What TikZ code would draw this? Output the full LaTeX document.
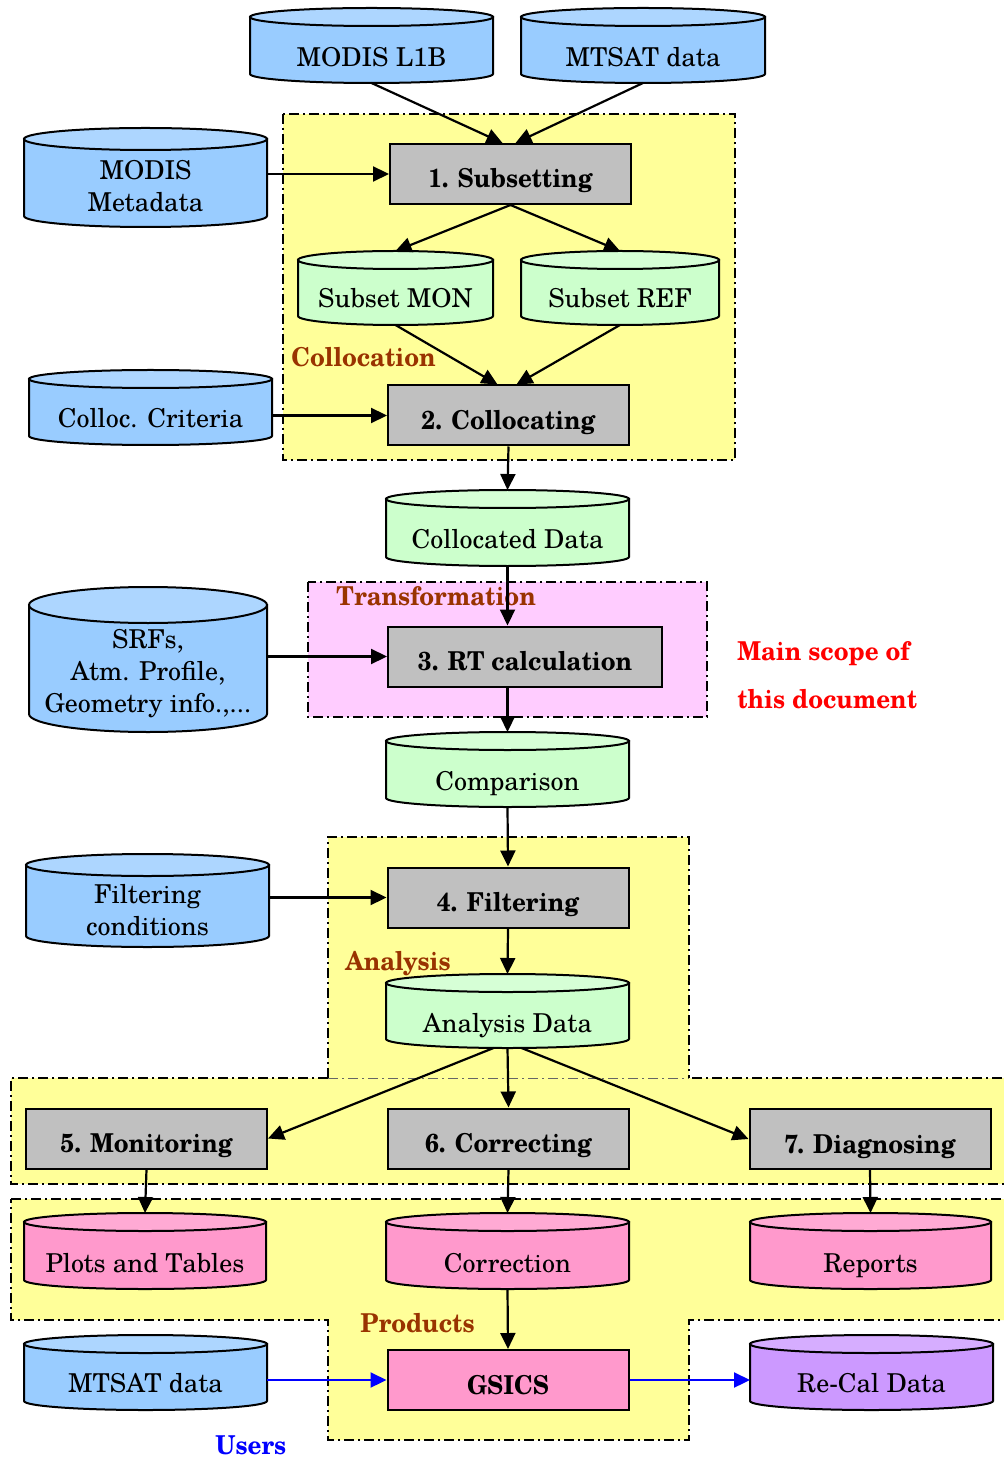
\documentclass[tikz,border=0pt]{standalone}
\usepackage{fontspec}
\setmainfont{TeX Gyre Schola}[BoldFeatures={FakeStretch=0.93}]
\usetikzlibrary{arrows.meta,calc}
\definecolor{cblue}{HTML}{99CCFF}
\definecolor{cblueend}{HTML}{ADD6FF}
\definecolor{cgreen}{HTML}{CCFFCC}
\definecolor{cgreenend}{HTML}{D6FFD6}
\definecolor{cpink}{HTML}{FF99CC}
\definecolor{cpinkend}{HTML}{FFAAD4}
\definecolor{cpurple}{HTML}{CC99FF}
\definecolor{cpurpleend}{HTML}{D6ADFF}
\definecolor{boxgray}{HTML}{C0C0C0}
\definecolor{regyellow}{HTML}{FFFF99}
\definecolor{regpink}{HTML}{FFCCFF}
\definecolor{labbrown}{HTML}{993300}
\tikzset{
  region/.style={draw=black, line width=1pt, dash pattern=on 5pt off 2pt on 1pt off 2pt},
  cylline/.style={draw=black, line width=1pt},
  cylnode/.style={rectangle, inner sep=0pt, outer sep=0pt},
  cyltext/.style={anchor=base, align=center, inner sep=0pt},
  procbox/.style={rectangle, draw=black, line width=1pt, fill=boxgray, inner sep=0pt,
    minimum width=120.5pt, minimum height=30pt, font=\bfseries, text height=14pt, text depth=0pt},
  arr/.style={-{Triangle[length=8pt,width=7.5pt]}, line width=1.1pt},
  barr/.style={arr, draw=blue},
  grouplabel/.style={anchor=base west, inner sep=0pt, font=\bfseries, text=labbrown},
}
% #1 name, #2 x1, #3 x2, #4 ytop, #5 ybottom, #6 ry, #7 colour, #8 baseline of last line, #9 text
\newcommand\dbcyl[9]{%
  \pgfmathsetmacro\mycx{(#2+#3)/2}%
  \pgfmathsetmacro\myrx{(#3-#2)/2}%
  \pgfmathsetmacro\myw{(#3-#2)*0.5}%
  \pgfmathsetmacro\myh{(#5-#4)*0.5}%
  \pgfmathsetmacro\mycy{(#4+#5)/2}%
  \filldraw[cylline, fill=#7] (#2,{#4+#6}) -- (#2,{#5-#6})
    .. controls (#2,{#5-0.448*#6}) and ({\mycx-0.552*\myrx},#5) .. (\mycx,#5)
    .. controls ({\mycx+0.552*\myrx},#5) and (#3,{#5-0.448*#6}) .. (#3,{#5-#6})
    -- (#3,{#4+#6}) -- cycle;
  \filldraw[cylline, fill=#7end] (\mycx,{#4+#6}) ellipse ({\myrx} and {#6});
  \node[cylnode, minimum width=\myw pt, minimum height=\myh pt] (#1) at (\mycx,\mycy) {};
  \node[cyltext] (#1-t) at (\mycx,#8) {#9};
}
\begin{document}
\begin{tikzpicture}[x=0.5pt,y=-0.5pt]
\fontsize{13}{16}\selectfont
\useasboundingbox (0,0) rectangle (1004,1459);
% ---------- regions ----------
\filldraw[region, fill=regyellow] (283,114) rectangle (735,460);
\filldraw[region, fill=regpink] (308,582) rectangle (707,717);
\fill[regyellow] (328,837) rectangle (689,1078);
\fill[regyellow] (11,1078) rectangle (1012,1184);
\draw[region] (328,1078) -- (328,837) -- (689,837) -- (689,1078);
\draw[region] (328,1078) -- (11,1078) -- (11,1184) -- (1012,1184) -- (1012,1078) -- (689,1078);
\draw[region, line width=0.4pt, draw=black!60] (328,1078) -- (689,1078);
\filldraw[region, fill=regyellow] (11,1199) -- (1012,1199) -- (1012,1320) -- (689,1320) -- (689,1440)
  -- (328,1440) -- (328,1320) -- (11,1320) -- cycle;
% ---------- group labels ----------
\node[grouplabel] (lcoll) at (291,367) {Collocation};
\node[grouplabel] (ltrans) at (336,605) {Transformation};
\node[grouplabel] (lana) at (345,970) {Analysis};
\node[grouplabel] (lprod) at (360,1332) {Products};
\node[grouplabel, text=red] (lscope1) at (737,660) {Main scope of};
\node[grouplabel, text=red] (lscope2) at (737,708) {this document};
\node[grouplabel, text=blue] (lusers) at (215,1454) {Users};
% ---------- data stores ----------
\dbcyl{l1b}{250}{493}{8}{83}{9}{cblue}{67}{MODIS L1B}
\dbcyl{mt1}{521}{765}{8}{83}{9}{cblue}{67}{MTSAT data}
\dbcyl{meta}{24}{267}{128}{227}{11}{cblue}{212}{MODIS\\Metadata}
\dbcyl{mon}{298}{493}{251}{325}{9}{cgreen}{308}{Subset MON}
\dbcyl{ref}{521}{719}{251}{325}{9}{cgreen}{308}{Subset REF}
\dbcyl{crit}{29}{272}{370}{445}{9}{cblue}{428}{Colloc. Criteria}
\dbcyl{cold}{386}{629}{490}{566}{9}{cgreen}{548}{Collocated Data}
\dbcyl{srf}{29}{267}{587}{732}{18}{cblue}{712}{SRFs,\\Atm. Profile,\\Geometry info.,...}
\dbcyl{comp}{386}{629}{732}{807}{9}{cgreen}{790}{Comparison}
\dbcyl{fcond}{26}{269}{854}{947}{11}{cblue}{935}{Filtering\\conditions}
\dbcyl{anad}{386}{629}{974}{1048}{9}{cgreen}{1032}{Analysis Data}
\dbcyl{plots}{24}{266}{1213}{1289}{9}{cpink}{1272}{Plots and Tables}
\dbcyl{corrd}{386}{629}{1213}{1289}{9}{cpink}{1272}{Correction}
\dbcyl{reports}{750}{991}{1213}{1289}{9}{cpink}{1272}{Reports}
\dbcyl{mt2}{24}{267}{1335}{1410}{9}{cblue}{1392}{MTSAT data}
\dbcyl{recal}{750}{993}{1335}{1410}{9}{cpurple}{1392}{Re-Cal Data}
% ---------- processes ----------
\node[procbox] (sub) at (510.5,174) {1. Subsetting};
\node[procbox] (coll) at (508.5,415.5) {2. Collocating};
\node[procbox, minimum width=137pt] (rt) at (525,656.5) {3. RT calculation};
\node[procbox] (filt) at (508,897.5) {4. Filtering};
\node[procbox] (mon5) at (146.5,1138.5) {5. Monitoring};
\node[procbox] (corr) at (508.5,1138.5) {6. Correcting};
\node[procbox] (diag) at (870,1139) {7. Diagnosing};
\node[procbox, fill=cpink] (gsics) at (508,1380) {GSICS};
% ---------- connectors ----------
\draw[arr] (l1b.south) -- ($(sub.north)+(-8,0)$);
\draw[arr] (mt1.south) -- ($(sub.north)+(5,0)$);
\draw[arr] (meta.east |- sub.west) -- (sub.west);
\draw[arr] (sub.south) -- (mon.north);
\draw[arr] (sub.south) -- (ref.north);
\draw[arr] (mon.south) -- ($(coll.north)+(-11,0)$);
\draw[arr] (ref.south) -- ($(coll.north)+(8,0)$);
\draw[arr] (crit.east |- coll.west) -- (coll.west);
\draw[arr] (coll.south) -- (cold.north);
\draw[arr] (cold.south) -- (cold.south |- rt.north);
\draw[arr] (srf.east |- rt.west) -- (rt.west);
\draw[arr] (comp.north |- rt.south) -- (comp.north);
\draw[arr] (comp.south) -- (filt.north);
\draw[arr] (fcond.east |- filt.west) -- (filt.west);
\draw[arr] (filt.south) -- (anad.north);
\draw[arr] ($(anad.south)+(-14,0)$) -- (mon5.east);
\draw[arr] (anad.south) -- (corr.north);
\draw[arr] ($(anad.south)+(14,0)$) -- (diag.west);
\draw[arr] (mon5.south) -- (plots.north);
\draw[arr] (corr.south) -- (corrd.north);
\draw[arr] (diag.south) -- (reports.north);
\draw[arr] (corrd.south) -- (gsics.north);
\draw[barr] (mt2.east |- gsics.west) -- (gsics.west);
\draw[barr] (gsics.east) -- (recal.west |- gsics.east);
\end{tikzpicture}
\end{document}
